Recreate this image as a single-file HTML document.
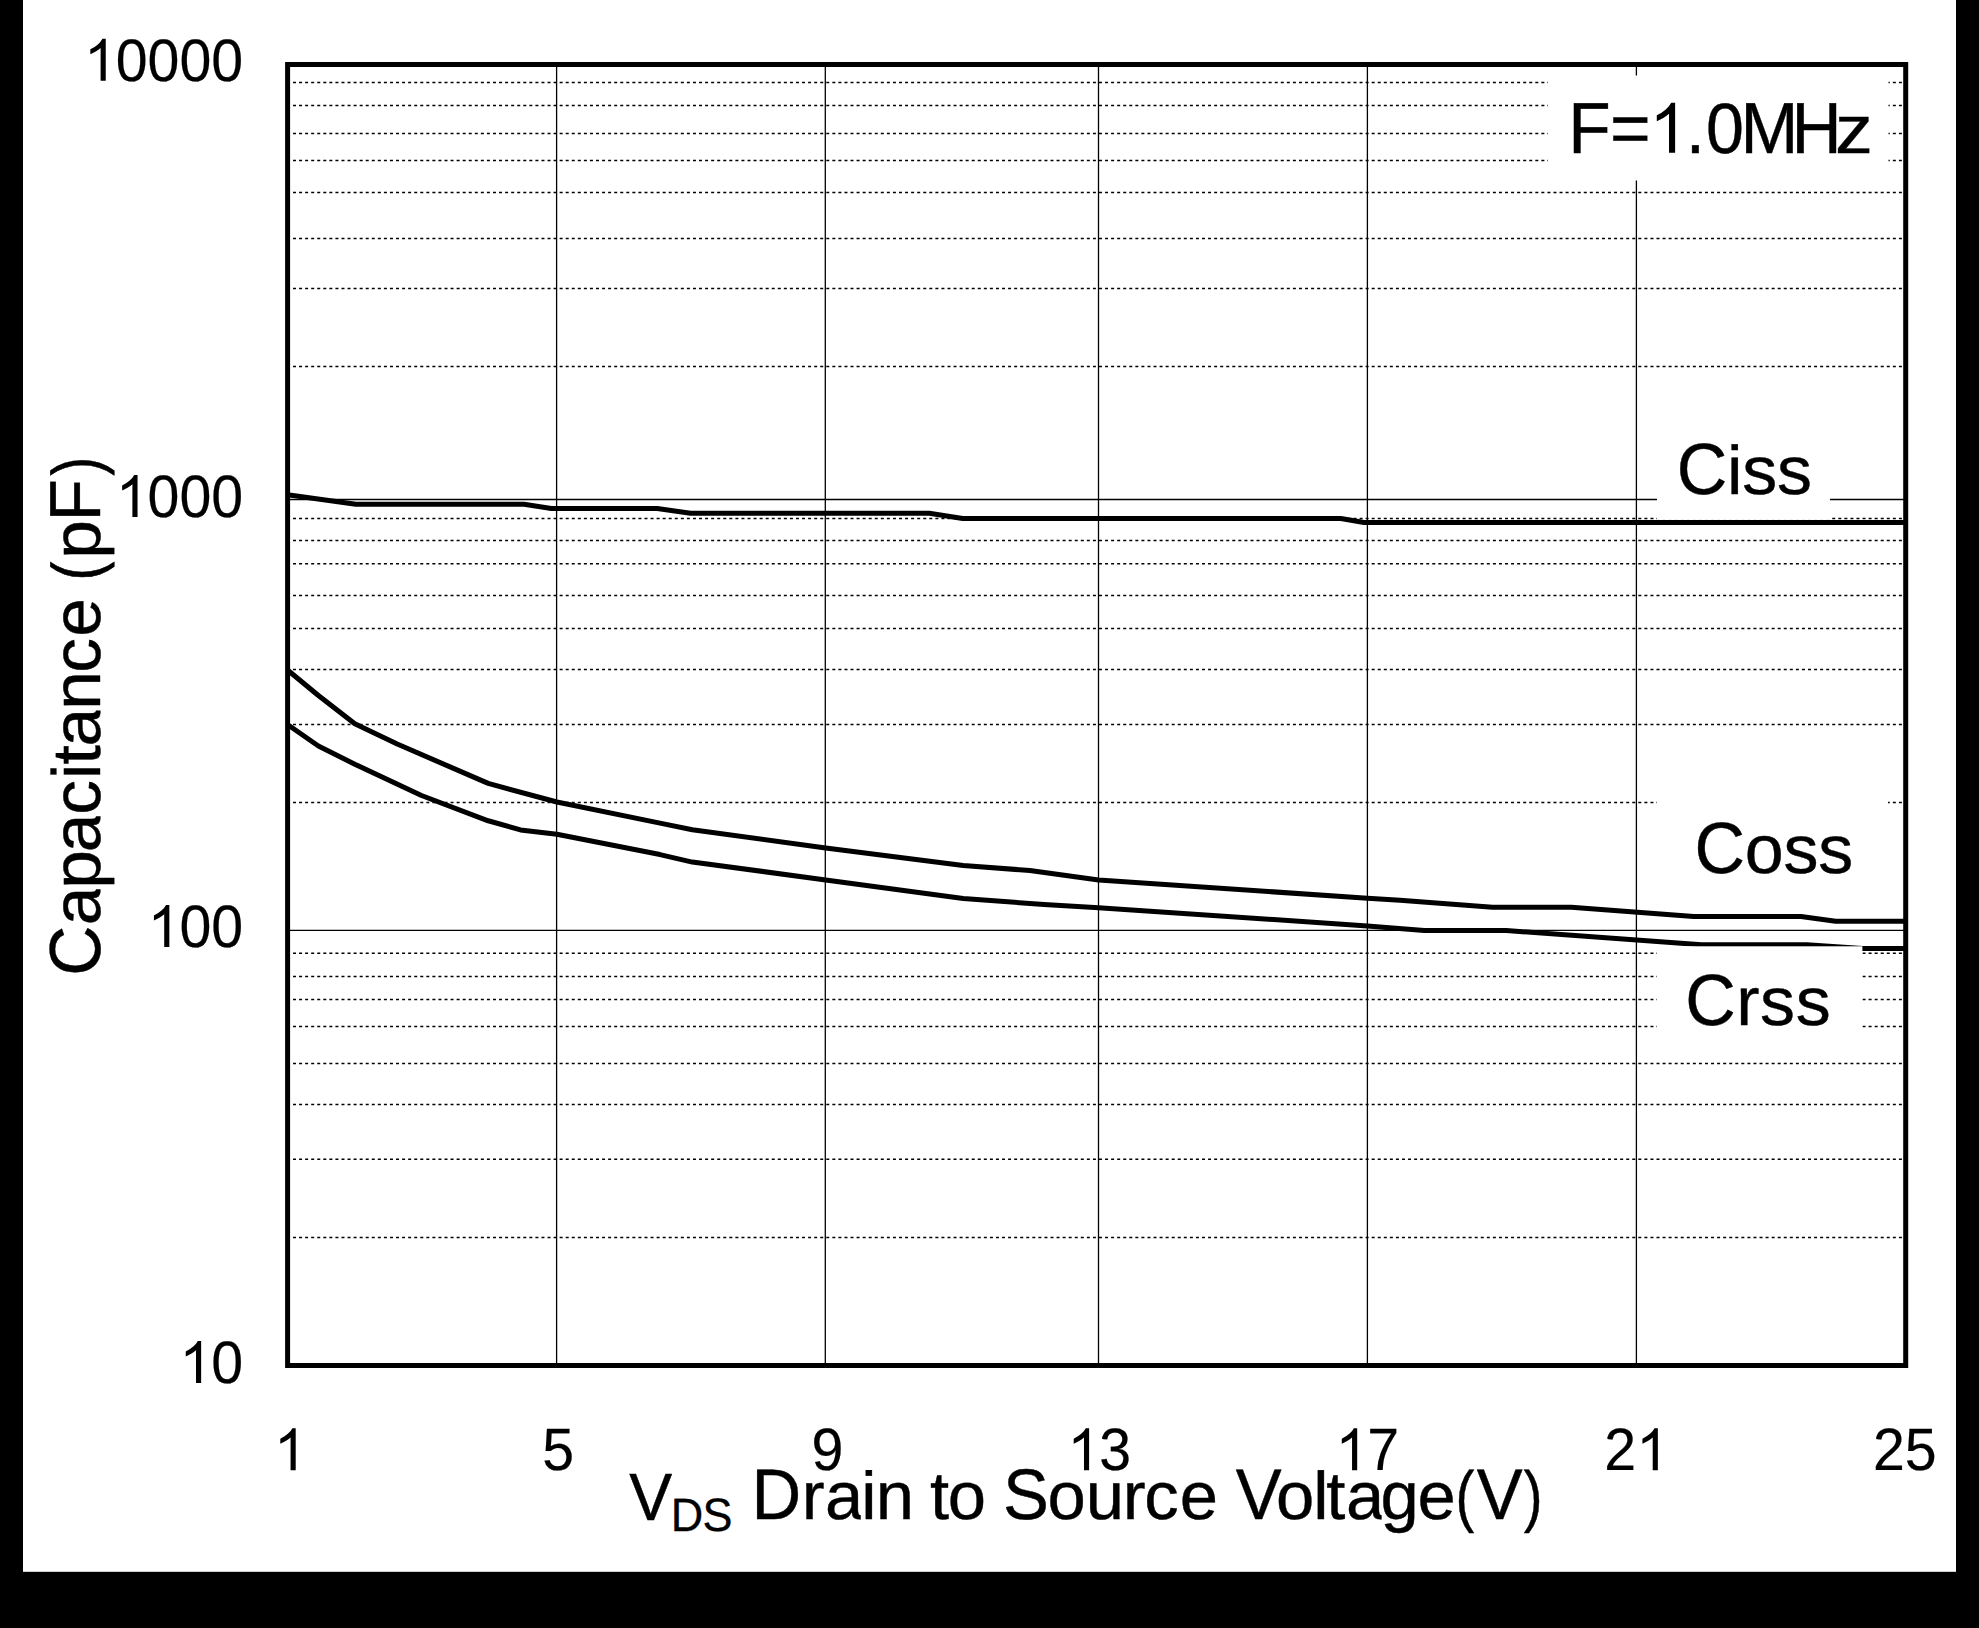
<!DOCTYPE html>
<html><head><meta charset="utf-8"><title>Capacitance vs VDS</title>
<style>
html,body{margin:0;padding:0;background:#000;}
body{width:1979px;height:1628px;overflow:hidden;position:relative;}
body>svg{position:absolute;left:0;top:0;display:block;}
text{font-family:"Liberation Sans",sans-serif;fill:#000;stroke:#000;text-rendering:geometricPrecision;}
path{fill:#000;stroke:none;}
</style></head><body>
<svg width="1979" height="1628" viewBox="0 0 1979 1628">
<rect x="0" y="0" width="1979" height="1628" fill="#000"/>
<rect x="23" y="0" width="1933" height="1571.8" fill="#fff"/>

<g stroke="#000" stroke-width="1.5" stroke-dasharray="3 3.06" fill="none">
<line x1="293" y1="82.4" x2="1903" y2="82.4"/>
<line x1="293" y1="105.5" x2="1903" y2="105.5"/>
<line x1="293" y1="133.5" x2="1903" y2="133.5"/>
<line x1="293" y1="160.5" x2="1903" y2="160.5"/>
<line x1="293" y1="192.5" x2="1903" y2="192.5"/>
<line x1="293" y1="238.4" x2="1903" y2="238.4"/>
<line x1="293" y1="288.6" x2="1903" y2="288.6"/>
<line x1="293" y1="366.4" x2="1903" y2="366.4"/>
<line x1="293" y1="518.4" x2="1903" y2="518.4"/>
<line x1="293" y1="540.5" x2="1903" y2="540.5"/>
<line x1="293" y1="563.7" x2="1903" y2="563.7"/>
<line x1="293" y1="595.5" x2="1903" y2="595.5"/>
<line x1="293" y1="628.6" x2="1903" y2="628.6"/>
<line x1="293" y1="669.6" x2="1903" y2="669.6"/>
<line x1="293" y1="724.5" x2="1903" y2="724.5"/>
<line x1="293" y1="802.5" x2="1903" y2="802.5"/>
<line x1="293" y1="953.3" x2="1903" y2="953.3"/>
<line x1="293" y1="976.5" x2="1903" y2="976.5"/>
<line x1="293" y1="999.4" x2="1903" y2="999.4"/>
<line x1="293" y1="1026.4" x2="1903" y2="1026.4"/>
<line x1="293" y1="1063.5" x2="1903" y2="1063.5"/>
<line x1="293" y1="1104.5" x2="1903" y2="1104.5"/>
<line x1="293" y1="1159.3" x2="1903" y2="1159.3"/>
<line x1="293" y1="1237.4" x2="1903" y2="1237.4"/>
</g>
<g stroke="#000" stroke-width="1.3" fill="none">
<line x1="288" y1="499.5" x2="1905" y2="499.5"/>
<line x1="288" y1="930.4" x2="1905" y2="930.4"/>
<line x1="556.6" y1="65" x2="556.6" y2="1365"/>
<line x1="825.3" y1="65" x2="825.3" y2="1365"/>
<line x1="1098.5" y1="65" x2="1098.5" y2="1365"/>
<line x1="1367.4" y1="65" x2="1367.4" y2="1365"/>
<line x1="1636.4" y1="65" x2="1636.4" y2="1365"/>
</g>
<g stroke="#000" stroke-width="5.05" fill="none" stroke-linejoin="round">
<polyline points="287.5,494.8 355.8,504.2 524.0,504.2 551.3,508.5 657.2,508.5 690.6,513.3 929.3,513.3 962.7,518.4 1340.9,518.4 1364.0,522.4 1905.0,522.4"/>
<polyline points="287.5,670.0 318.4,695.5 354.8,723.8 397.2,744.0 488.2,783.4 556.9,802.0 660.0,823.1 692.3,829.7 825.7,847.9 963.2,865.5 1029.9,870.5 1098.6,880.1 1367.4,898.2 1400.0,900.3 1492.5,907.2 1571.3,907.2 1693.8,916.5 1801.0,916.5 1835.6,921.3 1905.0,921.3"/>
<polyline points="287.5,724.5 318.4,746.0 354.8,764.2 421.5,795.5 488.2,820.8 520.5,829.9 556.9,834.3 660.0,854.6 692.3,862.1 825.7,879.9 963.2,898.5 1044.0,904.5 1098.6,907.7 1367.4,925.9 1424.3,930.5 1506.1,930.5 1701.5,944.7 1806.8,944.7 1862.4,948.5 1905.0,948.5"/>
</g>
<g fill="#fff">
<rect x="1548" y="75.5" width="340.5" height="105"/>
<rect x="1657" y="415" width="173" height="104.7"/>
<rect x="1657" y="795" width="231" height="105"/>
<rect x="1657" y="946.3" width="205.4" height="105"/>
</g>
<rect x="287.6" y="64.5" width="1618.1" height="1301" fill="none" stroke="#000" stroke-width="5"/>
<text font-size="72.31" stroke-width="0.41" transform="translate(1568.30,152.80) scale(0.9611,1)">F</text>
<text font-size="72.31" stroke-width="0.41" transform="translate(1609.91,152.80) scale(0.9611,1)">=</text>
<path d="M763 0H583V1147Q518 1085 412.5 1023Q307 961 223 930V1104Q374 1175 487 1276Q600 1377 647 1472H763Z" transform="translate(1649.23,152.80) scale(0.03394,-0.03394)"/>
<text font-size="72.31" stroke-width="0.41" transform="translate(1685.75,152.80) scale(0.9611,1)">.</text>
<text font-size="71.38" stroke-width="0.41" transform="translate(1706.04,152.80) scale(0.9550,1)">0</text>
<text font-size="72.31" stroke-width="0.41" transform="translate(1740.60,152.80) scale(0.9611,1)">M</text>
<text font-size="72.31" stroke-width="0.41" transform="translate(1791.60,152.80) scale(0.9611,1)">H</text>
<text font-size="68.22" stroke-width="0.38" transform="translate(1835.03,152.80) scale(1.1105,1)">z</text>
<text font-size="72.83" stroke-width="0.41" transform="translate(1676.75,493.60) scale(0.9611,1)">C</text>
<text font-size="68.71" stroke-width="0.40" transform="translate(1727.02,493.60) scale(1.0188,1)">i</text>
<text font-size="68.71" stroke-width="0.40" transform="translate(1742.30,493.60) scale(1.0188,1)">s</text>
<text font-size="68.71" stroke-width="0.40" transform="translate(1777.03,493.60) scale(1.0188,1)">s</text>
<text font-size="72.83" stroke-width="0.41" transform="translate(1694.45,873.20) scale(0.9611,1)">C</text>
<text font-size="68.71" stroke-width="0.40" transform="translate(1744.76,873.20) scale(1.0188,1)">o</text>
<text font-size="68.71" stroke-width="0.40" transform="translate(1783.46,873.20) scale(1.0188,1)">s</text>
<text font-size="68.71" stroke-width="0.40" transform="translate(1818.23,873.20) scale(1.0188,1)">s</text>
<text font-size="72.83" stroke-width="0.41" transform="translate(1685.25,1024.50) scale(0.9611,1)">C</text>
<text font-size="68.71" stroke-width="0.40" transform="translate(1736.30,1024.50) scale(1.0188,1)">r</text>
<text font-size="68.71" stroke-width="0.40" transform="translate(1760.12,1024.50) scale(1.0188,1)">s</text>
<text font-size="68.71" stroke-width="0.40" transform="translate(1795.63,1024.50) scale(1.0188,1)">s</text>
<path d="M763 0H583V1147Q518 1085 412.5 1023Q307 961 223 930V1104Q374 1175 487 1276Q600 1377 647 1472H763Z" transform="translate(83.98,80.80) scale(0.02852,-0.02852)"/>
<text font-size="59.98" stroke-width="0.20" transform="translate(115.78,80.80) scale(0.9550,1)">0</text>
<text font-size="59.98" stroke-width="0.20" transform="translate(147.58,80.80) scale(0.9550,1)">0</text>
<text font-size="59.98" stroke-width="0.20" transform="translate(179.38,80.80) scale(0.9550,1)">0</text>
<text font-size="59.98" stroke-width="0.20" transform="translate(211.18,80.80) scale(0.9550,1)">0</text>
<path d="M763 0H583V1147Q518 1085 412.5 1023Q307 961 223 930V1104Q374 1175 487 1276Q600 1377 647 1472H763Z" transform="translate(115.78,516.90) scale(0.02852,-0.02852)"/>
<text font-size="59.98" stroke-width="0.20" transform="translate(147.58,516.90) scale(0.9550,1)">0</text>
<text font-size="59.98" stroke-width="0.20" transform="translate(179.38,516.90) scale(0.9550,1)">0</text>
<text font-size="59.98" stroke-width="0.20" transform="translate(211.18,516.90) scale(0.9550,1)">0</text>
<path d="M763 0H583V1147Q518 1085 412.5 1023Q307 961 223 930V1104Q374 1175 487 1276Q600 1377 647 1472H763Z" transform="translate(147.58,947.00) scale(0.02852,-0.02852)"/>
<text font-size="59.98" stroke-width="0.20" transform="translate(179.38,947.00) scale(0.9550,1)">0</text>
<text font-size="59.98" stroke-width="0.20" transform="translate(211.18,947.00) scale(0.9550,1)">0</text>
<path d="M763 0H583V1147Q518 1085 412.5 1023Q307 961 223 930V1104Q374 1175 487 1276Q600 1377 647 1472H763Z" transform="translate(179.38,1382.90) scale(0.02852,-0.02852)"/>
<text font-size="59.98" stroke-width="0.20" transform="translate(211.18,1382.90) scale(0.9550,1)">0</text>
<path d="M763 0H583V1147Q518 1085 412.5 1023Q307 961 223 930V1104Q374 1175 487 1276Q600 1377 647 1472H763Z" transform="translate(273.94,1470.20) scale(0.02852,-0.02852)"/>
<text font-size="59.98" stroke-width="0.20" transform="translate(542.23,1470.20) scale(0.9550,1)">5</text>
<text font-size="59.98" stroke-width="0.20" transform="translate(811.39,1470.20) scale(0.9550,1)">9</text>
<path d="M763 0H583V1147Q518 1085 412.5 1023Q307 961 223 930V1104Q374 1175 487 1276Q600 1377 647 1472H763Z" transform="translate(1067.35,1470.20) scale(0.02852,-0.02852)"/>
<text font-size="59.98" stroke-width="0.20" transform="translate(1099.15,1470.20) scale(0.9550,1)">3</text>
<path d="M763 0H583V1147Q518 1085 412.5 1023Q307 961 223 930V1104Q374 1175 487 1276Q600 1377 647 1472H763Z" transform="translate(1335.43,1470.20) scale(0.02852,-0.02852)"/>
<text font-size="59.98" stroke-width="0.20" transform="translate(1367.23,1470.20) scale(0.9550,1)">7</text>
<text font-size="59.98" stroke-width="0.20" transform="translate(1604.28,1470.20) scale(0.9550,1)">2</text>
<path d="M763 0H583V1147Q518 1085 412.5 1023Q307 961 223 930V1104Q374 1175 487 1276Q600 1377 647 1472H763Z" transform="translate(1636.08,1470.20) scale(0.02852,-0.02852)"/>
<text font-size="59.98" stroke-width="0.20" transform="translate(1873.03,1470.20) scale(0.9550,1)">2</text>
<text font-size="59.98" stroke-width="0.20" transform="translate(1904.83,1470.20) scale(0.9550,1)">5</text>
<text font-size="67.01" stroke-width="0.41" transform="translate(629.22,1520.10) scale(0.9611,1)">V</text>
<text font-size="46.82" stroke-width="0.31" transform="translate(670.71,1530.70) scale(0.9611,1)">D</text>
<text font-size="46.82" stroke-width="0.31" transform="translate(702.46,1530.70) scale(0.9611,1)">S</text>
<text font-size="71.58" stroke-width="0.41" transform="translate(751.46,1519.00) scale(0.9611,1)">D</text>
<text font-size="67.53" stroke-width="0.40" transform="translate(801.83,1519.00) scale(1.0188,1)">r</text>
<g transform="translate(825.08,1519.00) scale(1.0188,1)"><svg x="0" y="-67.5" width="35.02" height="87.8" overflow="hidden"><text font-size="67.53" stroke-width="0.40" x="0" y="67.5">a</text></svg></g>
<text font-size="67.53" stroke-width="0.40" transform="translate(861.30,1519.00) scale(1.0188,1)">i</text>
<text font-size="67.53" stroke-width="0.40" transform="translate(875.83,1519.00) scale(1.0188,1)">n</text>
<text font-size="67.53" stroke-width="0.40" transform="translate(930.06,1519.00) scale(1.0188,1)">t</text>
<text font-size="67.53" stroke-width="0.40" transform="translate(947.71,1519.00) scale(1.0188,1)">o</text>
<text font-size="71.58" stroke-width="0.41" transform="translate(1003.08,1519.00) scale(0.9611,1)">S</text>
<text font-size="67.53" stroke-width="0.40" transform="translate(1047.61,1519.00) scale(1.0188,1)">o</text>
<text font-size="67.53" stroke-width="0.40" transform="translate(1085.83,1519.00) scale(1.0188,1)">u</text>
<text font-size="67.53" stroke-width="0.40" transform="translate(1122.83,1519.00) scale(1.0188,1)">r</text>
<text font-size="67.53" stroke-width="0.40" transform="translate(1144.13,1519.00) scale(1.0188,1)">c</text>
<text font-size="67.53" stroke-width="0.40" transform="translate(1179.78,1519.00) scale(1.0188,1)">e</text>
<text font-size="71.58" stroke-width="0.41" transform="translate(1235.70,1519.00) scale(0.9611,1)">V</text>
<text font-size="67.53" stroke-width="0.40" transform="translate(1276.01,1519.00) scale(1.0188,1)">o</text>
<text font-size="67.53" stroke-width="0.40" transform="translate(1313.16,1519.00) scale(1.0188,1)">l</text>
<text font-size="67.53" stroke-width="0.40" transform="translate(1326.16,1519.00) scale(1.0188,1)">t</text>
<g transform="translate(1345.98,1519.00) scale(1.0188,1)"><svg x="0" y="-67.5" width="35.02" height="87.8" overflow="hidden"><text font-size="67.53" stroke-width="0.40" x="0" y="67.5">a</text></svg></g>
<text font-size="67.53" stroke-width="0.40" transform="translate(1380.51,1519.00) scale(1.0188,1)">g</text>
<text font-size="67.53" stroke-width="0.40" transform="translate(1417.38,1519.00) scale(1.0188,1)">e</text>
<text font-size="67.97" stroke-width="0.44" transform="translate(1455.40,1519.00) scale(0.8301,1)">(</text>
<text font-size="71.58" stroke-width="0.41" transform="translate(1476.80,1519.00) scale(0.9611,1)">V</text>
<text font-size="67.97" stroke-width="0.44" transform="translate(1523.67,1519.00) scale(0.8301,1)">)</text>
<g transform="translate(100.0,0) rotate(-90)">
<text font-size="72.31" stroke-width="0.41" transform="translate(-975.63,0.00) scale(0.9611,1)">C</text>
<g transform="translate(-925.25,0.00) scale(1.0188,1)"><svg x="0" y="-68.2" width="35.37" height="88.7" overflow="hidden"><text font-size="68.22" stroke-width="0.40" x="0" y="68.2">a</text></svg></g>
<text font-size="68.22" stroke-width="0.40" transform="translate(-888.68,0.00) scale(1.0188,1)">p</text>
<g transform="translate(-852.25,0.00) scale(1.0188,1)"><svg x="0" y="-68.2" width="35.37" height="88.7" overflow="hidden"><text font-size="68.22" stroke-width="0.40" x="0" y="68.2">a</text></svg></g>
<text font-size="68.22" stroke-width="0.40" transform="translate(-814.65,0.00) scale(1.0188,1)">c</text>
<text font-size="68.22" stroke-width="0.40" transform="translate(-779.25,0.00) scale(1.0188,1)">i</text>
<text font-size="68.22" stroke-width="0.40" transform="translate(-764.55,0.00) scale(1.0188,1)">t</text>
<g transform="translate(-746.55,0.00) scale(1.0188,1)"><svg x="0" y="-68.2" width="35.37" height="88.7" overflow="hidden"><text font-size="68.22" stroke-width="0.40" x="0" y="68.2">a</text></svg></g>
<text font-size="68.22" stroke-width="0.40" transform="translate(-709.82,0.00) scale(1.0188,1)">n</text>
<text font-size="68.22" stroke-width="0.40" transform="translate(-672.85,0.00) scale(1.0188,1)">c</text>
<text font-size="68.22" stroke-width="0.40" transform="translate(-636.85,0.00) scale(1.0188,1)">e</text>
<text font-size="68.66" stroke-width="0.44" transform="translate(-580.53,0.00) scale(0.8301,1)">(</text>
<text font-size="68.22" stroke-width="0.40" transform="translate(-558.68,0.00) scale(1.0188,1)">p</text>
<text font-size="72.31" stroke-width="0.41" transform="translate(-521.60,0.00) scale(0.9611,1)">F</text>
<text font-size="68.66" stroke-width="0.44" transform="translate(-475.83,0.00) scale(0.8301,1)">)</text>
</g>
</svg></body></html>
